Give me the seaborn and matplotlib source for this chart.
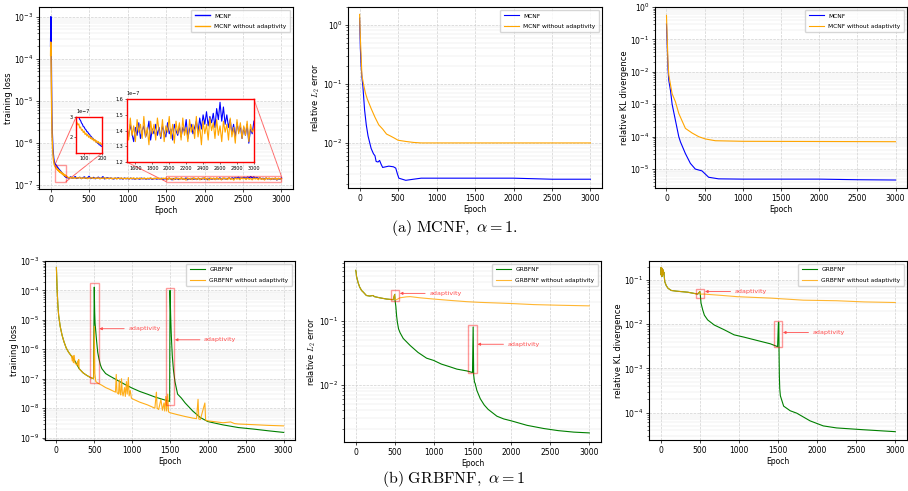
import numpy as np
import pandas as pd
import matplotlib
matplotlib.use('Agg')
from matplotlib import pyplot as plt
from matplotlib.patches import Rectangle, ConnectionPatch
import seaborn as sns

plt.rcParams['mathtext.fontset'] = 'cm'

# ---------------- (a) MCNF ----------------
# training loss, epochs 0..55 (absolute values)
mcnf_head_ep = [0, 2, 4, 6, 8, 10, 13, 16, 20, 25, 30, 35, 40, 45, 50, 55]
mcnf_loss_head = [2e-4, 6e-4, 1e-3, 4e-4, 1.2e-4, 4e-5, 1.2e-5, 5e-6, 2.2e-6, 1.2e-6,
                  7.5e-7, 5.5e-7, 4.4e-7, 3.8e-7, 3.4e-7, 3.2e-7]
nonadapt_loss_head = [1.2e-4, 2.5e-4, 2e-4, 1e-4, 5e-5, 2e-5, 7e-6, 3e-6, 1.4e-6, 8e-7,
                      5.5e-7, 4.2e-7, 3.6e-7, 3.2e-7, 2.95e-7, 2.8e-7]
# epochs 60..200 step 5, in units of 1e-7
zoom_ep = list(range(60, 201, 5))
mcnf_loss_zoom = [3.10, 3.04, 3.00, 2.88, 2.82, 2.70, 2.64, 2.52, 2.50, 2.40,
                  2.36, 2.27, 2.25, 2.16, 2.14, 2.04, 2.03, 1.94, 1.93, 1.85,
                  1.84, 1.76, 1.76, 1.68, 1.67, 1.60, 1.61, 1.54, 1.53]
nonadapt_loss_zoom = [2.72, 2.60, 2.66, 2.45, 2.50, 2.33, 2.38, 2.22, 2.30, 2.12,
                      2.20, 2.05, 2.13, 1.98, 2.06, 1.92, 1.99, 1.86, 1.93, 1.80,
                      1.88, 1.74, 1.82, 1.70, 1.77, 1.66, 1.72, 1.62, 1.66]
# epochs 220..1480 step 20, in units of 1e-7
mid_ep = list(range(220, 1481, 20))
mcnf_loss_mid = [1.50, 1.45, 1.56, 1.44, 1.48, 1.58, 1.43, 1.47, 1.52, 1.42,
                 1.49, 1.55, 1.43, 1.46, 1.60, 1.42, 1.47, 1.51, 1.41, 1.45,
                 1.53, 1.42, 1.46, 1.57, 1.40, 1.44, 1.49, 1.41, 1.46, 1.43,
                 1.39, 1.45, 1.42, 1.48, 1.40, 1.44, 1.38, 1.46, 1.41, 1.43,
                 1.39, 1.45, 1.40, 1.42, 1.37, 1.44, 1.41, 1.38, 1.45, 1.40,
                 1.43, 1.37, 1.42, 1.39, 1.44, 1.36, 1.41, 1.43, 1.38, 1.42,
                 1.39, 1.44, 1.37, 1.41]
nonadapt_loss_mid = [1.55, 1.46, 1.52, 1.44, 1.50, 1.43, 1.49, 1.45, 1.51, 1.42,
                     1.48, 1.44, 1.50, 1.41, 1.47, 1.45, 1.49, 1.42, 1.46, 1.44,
                     1.48, 1.40, 1.46, 1.43, 1.49, 1.41, 1.45, 1.42, 1.47, 1.40,
                     1.44, 1.46, 1.39, 1.45, 1.42, 1.47, 1.40, 1.44, 1.41, 1.46,
                     1.39, 1.45, 1.42, 1.47, 1.38, 1.44, 1.41, 1.46, 1.40, 1.43,
                     1.45, 1.38, 1.44, 1.42, 1.47, 1.39, 1.43, 1.41, 1.46, 1.40,
                     1.44, 1.38, 1.45, 1.42]
# epochs 1500..3000 step 20, in units of 1e-7
tail_ep = list(range(1500, 3001, 20))
mcnf_loss_tail = [1.41, 1.36, 1.44, 1.38, 1.33, 1.42, 1.37, 1.45, 1.35, 1.40,
                  1.43, 1.36, 1.39, 1.46, 1.34, 1.41, 1.38, 1.44, 1.37, 1.42,
                  1.35, 1.43, 1.39, 1.36, 1.45, 1.38, 1.41, 1.34, 1.44, 1.40,
                  1.37, 1.43, 1.36, 1.42, 1.39, 1.47, 1.35, 1.41, 1.44, 1.38,
                  1.42, 1.46, 1.39, 1.48, 1.41, 1.50, 1.44, 1.52, 1.43, 1.49,
                  1.45, 1.51, 1.42, 1.54, 1.47, 1.58, 1.46, 1.55, 1.44, 1.50,
                  1.42, 1.47, 1.38, 1.44, 1.36, 1.45, 1.39, 1.43, 1.35, 1.42,
                  1.37, 1.44, 1.32, 1.41, 1.38, 1.46]
nonadapt_loss_tail = [1.45, 1.34, 1.48, 1.37, 1.43, 1.33, 1.47, 1.39, 1.44, 1.35,
                      1.49, 1.36, 1.42, 1.31, 1.46, 1.38, 1.44, 1.34, 1.48, 1.40,
                      1.36, 1.47, 1.33, 1.43, 1.39, 1.49, 1.35, 1.44, 1.32, 1.46,
                      1.38, 1.45, 1.34, 1.48, 1.37, 1.42, 1.33, 1.47, 1.39, 1.44,
                      1.35, 1.49, 1.36, 1.43, 1.31, 1.46, 1.38, 1.44, 1.34, 1.48,
                      1.40, 1.45, 1.35, 1.47, 1.37, 1.43, 1.33, 1.46, 1.39, 1.44,
                      1.34, 1.48, 1.36, 1.42, 1.32, 1.47, 1.38, 1.45, 1.35, 1.43,
                      1.37, 1.46, 1.33, 1.44, 1.39, 1.41]

mcnf_l2_ep = [0, 10, 20, 30, 43, 65, 87, 110, 150, 180, 200, 215, 240, 260, 280,
              300, 340, 380, 440, 470, 490, 510, 600, 700, 800, 1000, 1500, 2000, 2500, 3000]
mcnf_l2 = [1.3, 0.4, 0.2, 0.13, 0.09, 0.036, 0.02, 0.013, 0.008, 0.0065, 0.006, 0.0048,
           0.0047, 0.005, 0.0043, 0.0038, 0.0039, 0.004, 0.0039, 0.0037, 0.003, 0.0025,
           0.0023, 0.0024, 0.0025, 0.0025, 0.0025, 0.0025, 0.0024, 0.0024]
nonadapt_l2_ep = [0, 10, 20, 30, 50, 75, 100, 150, 200, 250, 300, 350, 400, 450, 500,
                  600, 700, 800, 1500, 3000]
nonadapt_l2 = [1.5, 0.6, 0.3, 0.14, 0.1, 0.07, 0.055, 0.038, 0.027, 0.02, 0.017, 0.014,
               0.013, 0.012, 0.011, 0.0105, 0.0101, 0.0099, 0.0099, 0.0099]

mcnf_kl_ep = [0, 10, 20, 30, 52, 74, 117, 161, 183, 248, 313, 378, 465, 552, 683,
              1000, 2000, 2500, 3000]
mcnf_kl = [0.3, 0.06, 0.012, 5.5e-3, 2.7e-3, 1e-3, 3.2e-4, 1e-4, 6.9e-5, 3e-5, 1.5e-5,
           1e-5, 8.8e-6, 5.6e-6, 5e-6, 4.9e-6, 4.9e-6, 4.7e-6, 4.6e-6]
nonadapt_kl_ep = [0, 10, 20, 30, 74, 117, 161, 248, 335, 422, 509, 640, 1000, 2000, 3000]
nonadapt_kl = [0.55, 0.1, 0.02, 8e-3, 2.1e-3, 1.2e-3, 5.2e-4, 1.8e-4, 1.3e-4, 1e-4,
               8.5e-5, 7.5e-5, 7.2e-5, 7.1e-5, 7e-5]

# ---------------- (b) GRBFNF ----------------
grb_loss_ep = [0, 10, 20, 30, 50, 75, 100, 130, 160, 200, 250, 300, 350, 400, 450, 490,
               500, 505, 510, 520, 530, 545, 560, 580, 600, 650, 700, 800, 900, 1000,
               1100, 1200, 1300, 1400, 1495,
               1500, 1505, 1510, 1515, 1520, 1530, 1545, 1565, 1600, 1650, 1700, 1800,
               1900, 2000, 2200, 2400, 2600, 2800, 3000]
grb_loss = [6e-4, 1e-4, 3e-5, 1.4e-5, 6e-6, 3e-6, 1.8e-6, 1.1e-6, 8e-7, 5.8e-7, 3.8e-7,
            2.2e-7, 1.6e-7, 1.3e-7, 1.1e-7, 1e-7,
            1.3e-4, 2e-5, 8e-6, 4e-6, 2e-6, 8e-7, 5e-7, 3e-7, 2.2e-7, 1.5e-7, 1.25e-7,
            9e-8, 6.5e-8, 4.8e-8, 3.7e-8, 3e-8, 2.4e-8, 2e-8, 1.7e-8,
            1e-4, 3e-5, 1e-5, 4e-6, 2e-6, 6e-7, 2e-7, 8e-8, 3e-8, 2.2e-8, 1.5e-8, 8e-9,
            4.8e-9, 3.5e-9, 2.7e-9, 2.2e-9, 1.95e-9, 1.7e-9, 1.5e-9]
nonadapt4_ep = [0, 10, 20, 30, 50, 75, 100, 130, 160, 200,
                210, 220, 225, 235, 245, 255, 270, 280, 290, 295, 300, 350, 400, 450, 490,
                500, 508, 520, 550, 600, 650, 700, 750, 780, 790, 800, 820, 830, 840, 850,
                860, 870, 880, 900, 910, 925, 935, 950, 960, 975, 990, 1000,
                1100, 1200, 1300, 1320, 1330, 1350, 1380, 1400, 1420, 1430, 1445, 1455,
                1470, 1480, 1500,
                1600, 1700, 1800, 1850, 1870, 1880, 1900, 1960, 1970, 2000, 2200, 2300,
                2350, 2400, 2600, 2800, 3000]
nonadapt4_loss = [6e-4, 1e-4, 3e-5, 1.4e-5, 6e-6, 3e-6, 1.8e-6, 1.1e-6, 8e-7, 5.8e-7,
                  4e-7, 6e-7, 3.5e-7, 6.2e-7, 3.4e-7, 3.2e-7, 2.9e-7, 4e-7, 2.6e-7, 4.5e-7,
                  2.2e-7, 1.6e-7, 1.3e-7, 1.1e-7, 1e-7,
                  6e-6, 1.5e-7, 8e-8, 7e-8, 6e-8, 5e-8, 4.4e-8, 3.8e-8, 3.5e-8, 1.4e-7,
                  3.4e-8, 3e-8, 9e-8, 3.2e-8, 2.8e-8, 1e-7, 3.5e-8, 2.6e-8, 5e-8, 2.5e-8,
                  8e-8, 3e-8, 1.1e-7, 2.6e-8, 4e-8, 2.2e-8, 2.1e-8,
                  1.6e-8, 1.3e-8, 1e-8, 3.5e-8, 1e-8, 9e-9, 2e-8, 8.5e-9, 1.5e-8, 8e-9,
                  2.5e-8, 8e-9, 3e-8, 7.5e-9, 7e-9,
                  6e-9, 5.2e-9, 4.6e-9, 4.4e-9, 2e-8, 4.3e-9, 4.1e-9, 1.5e-8, 3.9e-9,
                  3.7e-9, 3.2e-9, 3.4e-9, 3e-9, 2.9e-9, 2.75e-9, 2.6e-9, 2.5e-9]

l2_head_ep = [0, 5, 10, 20, 30, 50, 75, 100, 137, 180, 223, 240, 309, 395, 481, 500]
l2_head = [0.62, 0.58, 0.50, 0.45, 0.40, 0.34, 0.30, 0.28, 0.25, 0.245, 0.25, 0.24,
           0.23, 0.22, 0.215, 0.26]
grb_l2_ep = [505, 515, 525, 535, 550, 570, 610, 700, 800, 910, 1000, 1100, 1212, 1300,
             1427, 1500, 1508, 1515, 1525, 1534, 1556, 1600, 1650, 1700, 1813, 1900,
             2000, 2200, 2415, 2600, 2800, 3000]
grb_l2 = [0.21, 0.17, 0.12, 0.095, 0.075, 0.065, 0.053, 0.041, 0.032, 0.026, 0.024,
          0.021, 0.019, 0.0175, 0.0164, 0.0155, 0.08, 0.014, 0.011, 0.0104, 0.0081,
          0.006, 0.0048, 0.0041, 0.0032, 0.0029, 0.0027, 0.0023, 0.00205, 0.0019,
          0.0018, 0.00175]
nonadapt_l2b_ep = [505, 524, 567, 650, 700, 825, 1000, 1200, 1427, 1600, 1856, 2000,
                   2286, 2600, 3000]
nonadapt_l2b = [0.215, 0.215, 0.23, 0.238, 0.24, 0.23, 0.22, 0.21, 0.2, 0.195, 0.19,
                0.187, 0.18, 0.176, 0.172]

kl_head_ep = [0, 5, 10, 15, 20, 25, 30, 35, 40, 51, 70, 93, 135, 200, 346, 473, 500]
kl_head = [0.19, 0.13, 0.19, 0.12, 0.18, 0.13, 0.17, 0.14, 0.15, 0.092, 0.075, 0.065,
           0.058, 0.056, 0.053, 0.048, 0.055]
grb_kl_ep = [505, 515, 537, 558, 600, 684, 811, 938, 1065, 1276, 1403, 1495, 1505, 1510,
             1513, 1517, 1522, 1530, 1572, 1656, 1740, 1910, 2079, 2248, 2586, 3000]
grb_kl = [0.048, 0.03, 0.021, 0.016, 0.0125, 0.0096, 0.0075, 0.00575, 0.0051, 0.0041,
          0.0036, 0.0031, 0.011, 0.011, 0.0026, 0.0007, 0.00035, 0.00024, 0.00014,
          0.00011, 9.7e-5, 6.5e-5, 5e-5, 4.5e-5, 4.1e-5, 3.7e-5]
nonadapt_klb_ep = [505, 558, 769, 980, 1403, 1825, 2248, 2600, 3000]
nonadapt_klb = [0.048, 0.048, 0.045, 0.042, 0.039, 0.035, 0.034, 0.032, 0.031]


def draw(ax, ep, val, color, label=None, lw=0.9, alpha=1.0):
    df = pd.DataFrame({'Epoch': ep, 'val': val})
    sns.lineplot(data=df, x='Epoch', y='val', color=color, label=label, lw=lw,
                 alpha=alpha, estimator=None, sort=False, ax=ax,
                 legend=label is not None)


def style(ax, ylabel, ylim):
    ax.set_yscale('log')
    ax.set_ylim(*ylim)
    ax.set_xlim(-150, 3150)
    ax.set_xticks([0, 500, 1000, 1500, 2000, 2500, 3000])
    ax.set_xlabel('Epoch', fontsize=5.5, labelpad=1.5)
    ax.set_ylabel(ylabel, fontsize=6, labelpad=1)
    ax.tick_params(labelsize=5.5, length=2.5, width=0.5, pad=1.5)
    ax.tick_params(which='minor', length=1.5, width=0.4)
    ax.grid(True, which='major', ls='--', lw=0.5, color='0.82')
    ax.grid(True, which='minor', axis='y', ls='-', lw=0.3, color='0.88')
    for s in ax.spines.values():
        s.set_linewidth(0.8)
    ax.legend(fontsize=4.2, loc='upper right', handlelength=2.6, borderpad=0.6,
              labelspacing=0.9)


def mark(ax, x0, y0, x1, y1):
    ax.add_patch(Rectangle((x0, y0), x1 - x0, y1 - y0, fill=False, ec='red',
                           alpha=0.4, lw=1.0, zorder=4))


def note(ax, tip, ytip, xtext):
    ax.annotate('adaptivity', xy=(tip, ytip), xytext=(xtext, ytip), color='#ff4d4d',
                fontsize=4.6, va='center', ha='left',
                arrowprops=dict(arrowstyle='-|>', color='#ff4d4d', lw=0.6,
                                mutation_scale=4, shrinkA=1, shrinkB=0))


fig = plt.figure(figsize=(9.08, 4.91), dpi=100)
ax1 = fig.add_axes([0.043, 0.615, 0.2797, 0.3707])
ax2 = fig.add_axes([0.3833, 0.617, 0.2797, 0.3687])
ax3 = fig.add_axes([0.7214, 0.617, 0.2775, 0.3687])
ax4 = fig.add_axes([0.0496, 0.1039, 0.2753, 0.3646])
ax5 = fig.add_axes([0.3789, 0.0998, 0.283, 0.3687])
ax6 = fig.add_axes([0.7148, 0.1039, 0.2841, 0.3646])

# ---- panel 1: training loss with insets
mcnf_ep = mcnf_head_ep + zoom_ep + mid_ep + tail_ep
mcnf_loss = mcnf_loss_head + [v * 1e-7 for v in mcnf_loss_zoom + mcnf_loss_mid + mcnf_loss_tail]
nonadapt_loss = nonadapt_loss_head + [v * 1e-7 for v in nonadapt_loss_zoom + nonadapt_loss_mid + nonadapt_loss_tail]
draw(ax1, mcnf_ep, mcnf_loss, 'blue', 'MCNF', lw=1.0)
draw(ax1, mcnf_ep, nonadapt_loss, 'orange', 'MCNF without adaptivity', lw=1.0)
style(ax1, 'training loss', (8e-8, 1.7e-3))

ins1 = ax1.inset_axes([0.146, 0.198, 0.102, 0.198])
ins2 = ax1.inset_axes([0.346, 0.148, 0.5, 0.346])
for ins in (ins1, ins2):
    draw(ins, mcnf_ep, mcnf_loss, 'blue', lw=0.8)
    draw(ins, mcnf_ep, nonadapt_loss, 'orange', lw=0.8)
    ins.set_xlabel('')
    ins.set_ylabel('')
    ins.tick_params(labelsize=3.5, length=1.5, width=0.4, pad=1)
    ins.yaxis.get_offset_text().set_fontsize(3.5)
    for s in ins.spines.values():
        s.set_color('red')
        s.set_linewidth(1.0)
ins1.set_xlim(55, 200)
ins1.set_ylim(1.2e-7, 3e-7)
ins1.set_xticks([100, 200])
ins1.set_yticks([2e-7, 3e-7])
ins2.set_xlim(1500, 3000)
ins2.set_ylim(1.2e-7, 1.6e-7)
ins2.set_xticks(list(range(1600, 3001, 200)))
ins2.set_yticks([1.2e-7, 1.3e-7, 1.4e-7, 1.5e-7, 1.6e-7])
for ins, a, b in ((ins1, [(55, 3e-7), (200, 1.2e-7)], [(0, 1), (1, 0)]),
                  (ins2, [(1500, 1.2e-7), (3000, 1.6e-7)], [(0, 0), (1, 1)])):
    x0, x1 = ins.get_xlim()
    y0, y1 = ins.get_ylim()
    mark(ax1, x0, y0, x1, y1)
    for pa, pb in zip(a, b):
        ax1.add_artist(ConnectionPatch(xyA=pa, coordsA=ax1.transData, xyB=pb,
                                       coordsB=ins.transAxes, color='red', lw=0.7,
                                       alpha=0.6))

# ---- panel 2, 3
draw(ax2, mcnf_l2_ep, mcnf_l2, 'blue', 'MCNF', lw=0.8)
draw(ax2, nonadapt_l2_ep, nonadapt_l2, 'orange', 'MCNF without adaptivity', lw=0.8)
style(ax2, 'relative $L_2$ error', (1.7e-3, 2.0))

draw(ax3, mcnf_kl_ep, mcnf_kl, 'blue', 'MCNF', lw=0.8)
draw(ax3, nonadapt_kl_ep, nonadapt_kl, 'orange', 'MCNF without adaptivity', lw=0.8)
style(ax3, 'relative KL divergence', (2.6e-6, 1.0))

# ---- panel 4
draw(ax4, grb_loss_ep, grb_loss, 'green', 'GRBFNF', lw=0.8)
draw(ax4, nonadapt4_ep, nonadapt4_loss, 'orange', 'GRBFNF without adaptivity', lw=0.8,
     alpha=0.9)
style(ax4, 'training loss', (8.3e-10, 1.0e-3))
mark(ax4, 450, 7e-8, 557, 1.75e-4)
mark(ax4, 1444, 1.3e-8, 1551, 1.2e-4)
note(ax4, 566, 5e-6, 950)
note(ax4, 1564, 2.1e-6, 1950)

# ---- panel 5
draw(ax5, l2_head_ep + grb_l2_ep, l2_head + grb_l2, 'green', 'GRBFNF', lw=0.8)
draw(ax5, l2_head_ep + nonadapt_l2b_ep, l2_head + nonadapt_l2b, 'orange',
     'GRBFNF without adaptivity', lw=0.8, alpha=0.8)
style(ax5, 'relative $L_2$ error', (1.26e-3, 0.87))
mark(ax5, 447, 0.204, 550, 0.30)
mark(ax5, 1448, 0.0153, 1556, 0.087)
note(ax5, 567, 0.27, 945)
note(ax5, 1564, 0.043, 1951)

# ---- panel 6
draw(ax6, kl_head_ep + grb_kl_ep, kl_head + grb_kl, 'green', 'GRBFNF', lw=0.8)
draw(ax6, kl_head_ep + nonadapt_klb_ep, kl_head + nonadapt_klb, 'orange',
     'GRBFNF without adaptivity', lw=0.8, alpha=0.8)
style(ax6, 'relative KL divergence', (2.4e-5, 0.27))
mark(ax6, 452, 0.04, 549, 0.062)
mark(ax6, 1445, 0.003, 1551, 0.0119)
note(ax6, 566, 0.055, 946)
note(ax6, 1563, 6.5e-3, 1943)

fig.text(0.5, 0.536, r'$\mathrm{(a)\ MCNF,}\ \alpha=1.$', ha='center', va='center',
         fontsize=11.5)
fig.text(0.5, 0.024, r'$\mathrm{(b)\ GRBFNF,}\ \alpha=1$', ha='center', va='center',
         fontsize=11.5)

fig.savefig('out.png', dpi=100)
